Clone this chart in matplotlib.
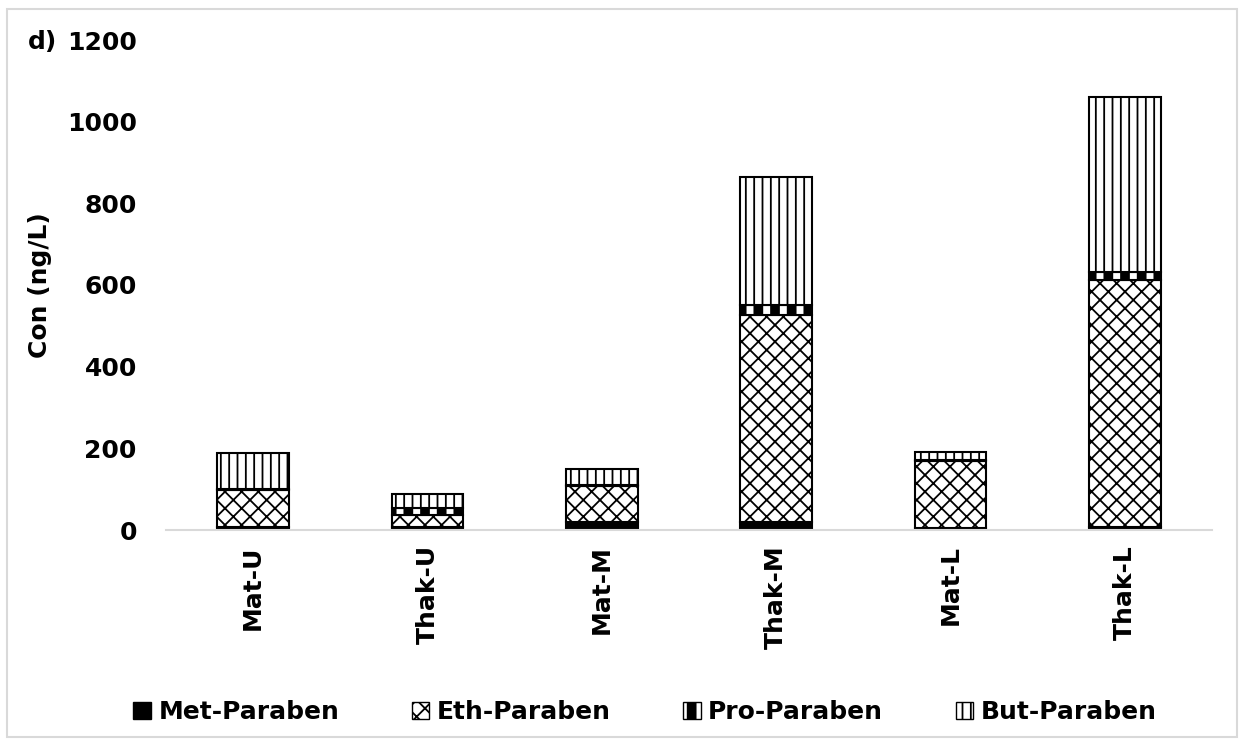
import matplotlib

matplotlib.use("Agg")
import matplotlib.pyplot as plt
from matplotlib.patches import Patch, Rectangle

sites = ["Mat-U", "Thak-U", "Mat-M", "Thak-M", "Mat-L", "Thak-L"]
met = [8, 7, 20, 20, 5, 7]
eth = [90, 30, 88, 507, 164, 606]
pro = [3, 17, 2, 24, 2, 19]
but = [88, 34, 40, 314, 20, 429]
yticks = [0, 200, 400, 600, 800, 1000, 1200]

FS = 18
plt.rcParams["font.family"] = ["DejaVu Sans"]
plt.rcParams["font.weight"] = "bold"
plt.rcParams["hatch.linewidth"] = 1.3

fig = plt.figure(figsize=(12.44, 7.44), dpi=100)
ax = fig.add_axes([166 / 1244, 1 - 530 / 744, 1046 / 1244, 490 / 744])

x = list(range(len(sites)))
w = 0.41
base = [0] * len(sites)

# (values, face, hatch, hatch line width)
layers = [
    (met, "black", "", 1.3),
    (eth, "white", "xx", 1.3),
    (pro, "white", "|", 7),
    (but, "white", "||", 1.3),
]
handles = []
names = ["Met-Paraben", "Eth-Paraben", "Pro-Paraben", "But-Paraben"]
for (vals, face, hatch, hlw), name in zip(layers, names):
    with plt.rc_context({"hatch.linewidth": hlw}):
        ax.bar(x, vals, w, bottom=base, color=face, edgecolor="black",
               hatch=hatch, linewidth=1.5, zorder=2)
    handles.append(Patch(facecolor=face, edgecolor="black",
                         hatch=hatch, label=name))
    base = [b + v for b, v in zip(base, vals)]

ax.set_xlim(-0.5, len(sites) - 0.5)
ax.set_ylim(0, 1200)
ax.set_yticks(yticks)
ax.set_yticklabels([str(t) for t in yticks], fontsize=FS, fontweight="bold")
ax.set_xticks(x)
ax.set_xticklabels(sites, rotation=90, fontsize=FS, fontweight="bold")
ax.tick_params(axis="y", length=0, pad=21)
ax.tick_params(axis="x", length=0, pad=11)
for side in ("top", "right", "left"):
    ax.spines[side].set_visible(False)
ax.spines["bottom"].set_color("#d9d9d9")
ax.spines["bottom"].set_linewidth(1.5)

fig.text(40 / 1244, 1 - 285 / 744, "Con (ng/L)", rotation=90, ha="center",
         va="center", fontsize=FS, fontweight="bold")
fig.text(28 / 1244, 1 - 42 / 744, "d)", ha="left", va="center",
         fontsize=FS, fontweight="bold")

leg = fig.legend(handles=handles, loc="center", bbox_to_anchor=(645 / 1244, 0.043),
                 ncol=4, frameon=False, handlelength=0.7, handleheight=0.7,
                 handletextpad=0.3, columnspacing=2.9,
                 prop={"size": FS, "weight": "bold"})
# legend copies the patches, so give the copies the same hatch widths
for p, (_, _, _, hlw) in zip(leg.get_patches(), layers):
    if hasattr(p, "set_hatch_linewidth"):
        p.set_hatch_linewidth(hlw)
    else:
        p._hatch_linewidth = hlw

fig.patches.append(Rectangle((7 / 1244, 7 / 744), 1 - 14 / 1244, 1 - 16 / 744,
                             transform=fig.transFigure, fill=False,
                             edgecolor="#d9d9d9", linewidth=1.5))

fig.savefig("out.png", dpi=100)
plt.close(fig)
